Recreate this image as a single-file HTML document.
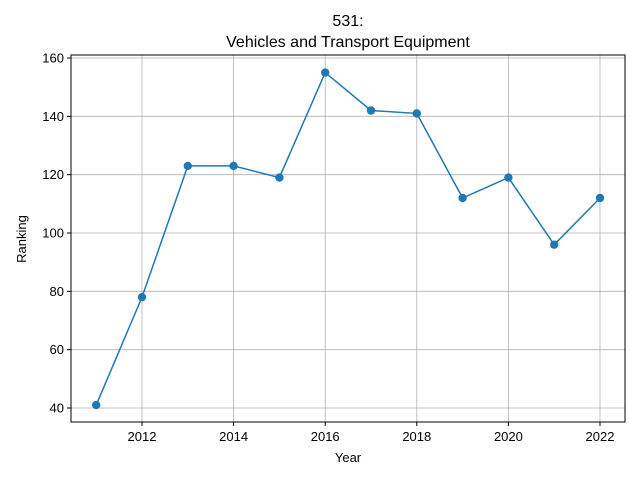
<!DOCTYPE html>
<html><head><meta charset="utf-8"><style>
body{margin:0;background:#fff;font-family:"Liberation Sans","DejaVu Sans",sans-serif;}
</style></head><body>
<svg id="chart" width="640" height="480" xmlns="http://www.w3.org/2000/svg">
<text x="348" y="26" text-anchor="middle" font-size="16">531:</text>
<text x="348" y="47" text-anchor="middle" font-size="16">Vehicles and Transport Equipment</text>
<g id="grid"></g><g id="ticks"></g>
<rect x="71" y="55" width="554" height="367" fill="none" stroke="#000" stroke-width="1"/>
<text x="348" y="462" text-anchor="middle" font-size="13">Year</text>
<text transform="translate(26,239) rotate(-90)" text-anchor="middle" font-size="13">Ranking</text>
<g id="series"></g>
</svg>
<script>
const years=[2011,2012,2013,2014,2015,2016,2017,2018,2019,2020,2021,2022];
const ranks=[41,78,123,123,119,155,142,141,112,119,96,112];
const xTicks=[2012,2014,2016,2018,2020,2022];
const yTicks=[40,60,80,100,120,140,160];
const NS="http://www.w3.org/2000/svg";
const xs=v=>142+(v-2012)*45.8;
const ys=v=>408-(v-40)*350/120;
function mk(t,a,p){const e=document.createElementNS(NS,t);for(const k in a)e.setAttribute(k,a[k]);p.appendChild(e);return e;}
const g=document.getElementById('grid'),tk=document.getElementById('ticks'),s=document.getElementById('series');
xTicks.forEach(v=>{const x=xs(v);
const l=mk('line',{x1:x,x2:x,y1:55,y2:422,stroke:'#b0b0b0','stroke-width':0.8},g);

mk('line',{x1:x,x2:x,y1:422,y2:426,stroke:'#000'},tk);
const t=mk('text',{x:x,y:441,'text-anchor':'middle','font-size':13},tk);t.textContent=v;
});
yTicks.forEach(v=>{const y=ys(v);
const l=mk('line',{x1:71,x2:625,y1:y,y2:y,stroke:'#b0b0b0','stroke-width':0.8},g);

mk('line',{x1:67,x2:71,y1:y,y2:y,stroke:'#000'},tk);
const t=mk('text',{x:64,y:y+4.5,'text-anchor':'end','font-size':13},tk);t.textContent=v;
});
const pts=years.map((y,i)=>xs(y)+','+ys(ranks[i])).join(' ');
const pl=mk('polyline',{points:pts,fill:'none',stroke:'#1f77b4','stroke-width':1.5},s);

years.forEach((y,i)=>{const c=mk('circle',{cx:xs(y),cy:ys(ranks[i]),r:4.2,fill:'#1f77b4'},s);
});
</script>
</body></html>
